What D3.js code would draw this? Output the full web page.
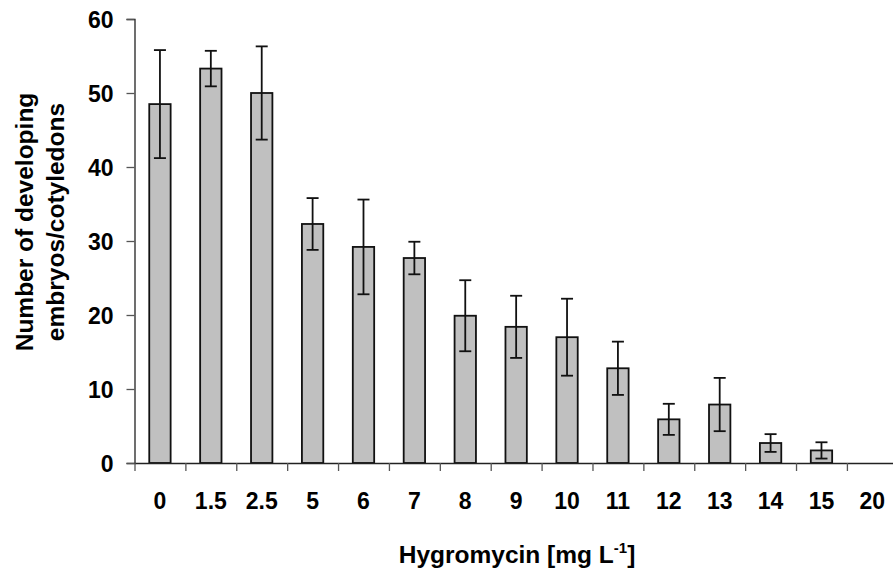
<!DOCTYPE html>
<html>
<head>
<meta charset="utf-8">
<script src="https://cdn.jsdelivr.net/npm/d3@7"></script>
<style>
  html, body { margin: 0; padding: 0; background: #fff; }
  svg { display: block; }
  svg text { font-family: "Liberation Sans", Arial, sans-serif; font-weight: bold; fill: #000; }
</style>
</head>
<body>
<svg id="chart" width="893" height="571"></svg>
<script>
const categories = ["0", "1.5", "2.5", "5", "6", "7", "8", "9", "10", "11", "12", "13", "14", "15", "20"];
const means = [48.5, 53.3, 50.0, 32.3, 29.2, 27.7, 19.9, 18.4, 17.0, 12.8, 5.9, 7.9, 2.7, 1.7, 0];
const errors = [7.3, 2.4, 6.3, 3.5, 6.4, 2.2, 4.8, 4.2, 5.2, 3.6, 2.1, 3.6, 1.2, 1.1, 0];
const yTicks = [0, 10, 20, 30, 40, 50, 60];

const data = categories.map((c, i) => ({ cat: c, mean: means[i], err: errors[i] }));

const svg = d3.select("#chart");
const plotLeft = 134.5, plotRight = 897.8, plotTop = 19, plotBottom = 463;

const x = d3.scaleBand().domain(categories).range([plotLeft, plotRight]).paddingInner(0.58).paddingOuter(0.29);
const xb = d3.scaleLinear().domain([0, categories.length]).range([plotLeft, plotRight]);
const y = d3.scaleLinear().domain([0, 60]).range([plotBottom, plotTop]);

// bars
svg.append("g").selectAll("rect").data(data).join("rect")
  .attr("x", d => x(d.cat))
  .attr("y", d => y(d.mean))
  .attr("width", x.bandwidth())
  .attr("height", d => y(0) - y(d.mean))
  .attr("fill", "#c0c0c0")
  .attr("stroke", d => d.mean > 0 ? "#111" : "#aaa")
  .attr("stroke-width", 1.8);

// error bars
const eb = svg.append("g").attr("stroke", "#111").attr("stroke-width", 1.8);
const cap = 6;
data.filter(d => d.err > 0).forEach(d => {
  const cx = x(d.cat) + x.bandwidth() / 2;
  eb.append("line").attr("x1", cx).attr("x2", cx).attr("y1", y(d.mean + d.err)).attr("y2", y(d.mean - d.err));
  eb.append("line").attr("x1", cx - cap).attr("x2", cx + cap).attr("y1", y(d.mean + d.err)).attr("y2", y(d.mean + d.err));
  eb.append("line").attr("x1", cx - cap).attr("x2", cx + cap).attr("y1", y(d.mean - d.err)).attr("y2", y(d.mean - d.err));
});

// y axis
const yAxis = svg.append("g").attr("transform", `translate(${plotLeft},0)`)
  .call(d3.axisLeft(y).tickValues(yTicks).tickFormat(d3.format("d")).tickSize(8).tickPadding(13));
yAxis.attr("font-family", null).attr("font-size", null);
yAxis.select(".domain").attr("stroke", "#222").attr("stroke-width", 1.3);
yAxis.selectAll(".tick line").attr("stroke", "#555").attr("stroke-width", 1.3);
yAxis.selectAll("text").style("font-size", "23px").attr("dy", "0.36em");

// x axis boundary ticks
const xTickAxis = svg.append("g").attr("transform", `translate(0,${plotBottom})`)
  .call(d3.axisBottom(xb).tickValues(d3.range(0, categories.length)).tickFormat("").tickSize(8).tickSizeOuter(0));
xTickAxis.select(".domain").attr("stroke", "#222").attr("stroke-width", 1.3);
xTickAxis.selectAll(".tick line").attr("stroke", "#555").attr("stroke-width", 1.3);

// x labels
const xAxis = svg.append("g").attr("transform", `translate(0,${plotBottom})`)
  .call(d3.axisBottom(x).tickSize(0).tickPadding(30));
xAxis.attr("font-family", null).attr("font-size", null);
xAxis.select(".domain").remove();
xAxis.selectAll("text").style("font-size", "23px");

// x title
const xt = svg.append("text").attr("x", 517).attr("y", 563).attr("text-anchor", "middle")
  .style("font-size", "24.5px");
xt.append("tspan").text("Hygromycin [mg L");
xt.append("tspan").style("font-size", "15px").attr("dy", -10).text("-1");
xt.append("tspan").attr("dy", 10).text("]");

// y title
const yt = svg.append("text").attr("transform", "translate(33,222) rotate(-90)")
  .attr("text-anchor", "middle").style("font-size", "24.5px");
yt.append("tspan").attr("x", 0).attr("y", 0).text("Number of developing");
yt.append("tspan").attr("x", 0).attr("y", 31).text("embryos/cotyledons");
</script>
</body>
</html>
